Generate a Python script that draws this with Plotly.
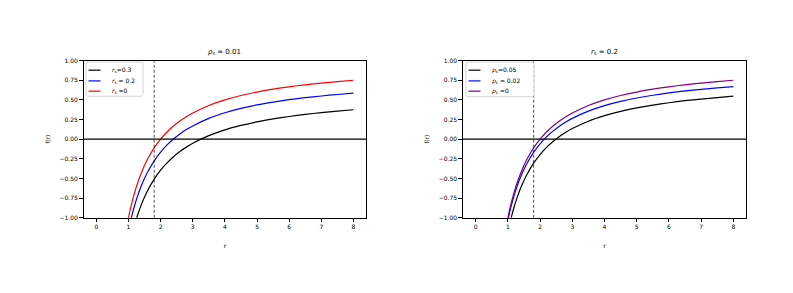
import plotly.graph_objects as go

# ---- data ----
r = [0.9, 1.0, 1.1, 1.2, 1.3, 1.4, 1.5, 1.6, 1.8, 2.0, 2.2, 2.4, 2.6, 2.8, 3.0,
     3.5, 4.0, 4.5, 5.0, 5.5, 6.0, 6.5, 7.0, 7.5, 8.0]

# left panel: rho_s = 0.01
left_rs03 = [-1.647, -1.419, -1.233, -1.077, -0.946, -0.833, -0.736, -0.650, -0.508,
             -0.394, -0.301, -0.223, -0.157, -0.101, -0.052, 0.045, 0.119, 0.175,
             0.221, 0.258, 0.289, 0.316, 0.338, 0.358, 0.375]
left_rs02 = [-1.386, -1.164, -0.982, -0.831, -0.702, -0.593, -0.497, -0.414, -0.275,
             -0.164, -0.073, 0.003, 0.067, 0.122, 0.169, 0.265, 0.336, 0.392,
             0.436, 0.472, 0.503, 0.528, 0.550, 0.569, 0.586]
left_rs0 = [-1.222, -1.000, -0.818, -0.667, -0.538, -0.429, -0.333, -0.250, -0.111,
            0.000, 0.091, 0.167, 0.231, 0.286, 0.333, 0.429, 0.500, 0.556,
            0.600, 0.636, 0.667, 0.692, 0.714, 0.733, 0.750]

# right panel: r_s = 0.2
right_rho005 = [-1.404, -1.184, -1.004, -0.854, -0.728, -0.619, -0.525, -0.442, -0.305,
                -0.195, -0.105, -0.030, 0.033, 0.088, 0.135, 0.229, 0.299, 0.354,
                0.398, 0.434, 0.464, 0.490, 0.511, 0.530, 0.547]
right_rho002 = [-1.248, -1.032, -0.855, -0.708, -0.583, -0.476, -0.384, -0.303, -0.168,
                -0.060, 0.029, 0.103, 0.165, 0.218, 0.265, 0.357, 0.427, 0.481,
                0.524, 0.559, 0.589, 0.614, 0.635, 0.654, 0.670]
right_rho0 = [-1.222, -1.000, -0.818, -0.667, -0.538, -0.429, -0.333, -0.250, -0.111,
              0.000, 0.091, 0.167, 0.231, 0.286, 0.333, 0.429, 0.500, 0.556,
              0.600, 0.636, 0.667, 0.692, 0.714, 0.733, 0.750]

x_ticks = [0, 1, 2, 3, 4, 5, 6, 7, 8]
y_ticks = [-1.0, -0.75, -0.5, -0.25, 0.0, 0.25, 0.5, 0.75, 1.0]
vline_r = 1.8

left_names = ["<i>r</i><sub>s</sub>=0.3", "<i>r</i><sub>s</sub> = 0.2", "<i>r</i><sub>s</sub> =0"]
right_names = ["<i>ρ</i><sub>s</sub>=0.05", "<i>ρ</i><sub>s</sub> = 0.02", "<i>ρ</i><sub>s</sub> =0"]
titles = ["<i>ρ</i><sub>s</sub> = 0.01", "<i>r</i><sub>s</sub> = 0.2"]

left_colors = ["#000000", "#0000ff", "#ff0000"]
right_colors = ["#000000", "#0000ff", "#800080"]

FONT = "DejaVu Sans"
W, H = 793, 293


def px(x):
    return x / W


def py(y):
    return 1 - y / H


fig = go.Figure()

for ys, c, n in zip([left_rs03, left_rs02, left_rs0], left_colors, left_names):
    fig.add_trace(go.Scatter(x=r, y=ys, mode="lines", name=n, showlegend=False,
                             line=dict(color=c, width=1.2, shape="spline", smoothing=0.6),
                             xaxis="x", yaxis="y"))

for ys, c, n in zip([right_rho005, right_rho002, right_rho0], right_colors, right_names):
    fig.add_trace(go.Scatter(x=r, y=ys, mode="lines", name=n, showlegend=False,
                             line=dict(color=c, width=1.2, shape="spline", smoothing=0.6),
                             xaxis="x2", yaxis="y2"))

# axes geometry (pixels -> paper)
lx0, lx1 = px(83.5), px(366.3)
rx0, rx1 = px(462.8), px(746.2)
y0, y1 = py(219), py(58)

axis_common = dict(showline=True, mirror=True, linecolor="black", linewidth=0.8,
                   ticks="outside", ticklen=3.5, tickwidth=0.8, tickcolor="black",
                   showgrid=False, zeroline=False,
                   tickfont=dict(family=FONT, size=6, color="black"))

xa = dict(axis_common, range=[-0.4, 8.4], tickvals=x_ticks,
          title=dict(text="r", font=dict(family=FONT, size=6, color="black"), standoff=14))
ya = dict(axis_common, range=[-1, 1], tickvals=y_ticks, tickformat=".2f",
          title=dict(text="f(r)", font=dict(family=FONT, size=6, color="black"), standoff=8))

fig.update_layout(
    width=W, height=H,
    margin=dict(l=0, r=0, t=0, b=0),
    paper_bgcolor="white", plot_bgcolor="white",
    font=dict(family=FONT, size=6, color="black"),
    xaxis=dict(xa, domain=[lx0, lx1], anchor="y"),
    yaxis=dict(ya, domain=[y0, y1], anchor="x"),
    xaxis2=dict(xa, domain=[rx0, rx1], anchor="y2"),
    yaxis2=dict(ya, domain=[y0, y1], anchor="x2"),
    showlegend=False,
)

shapes = []
for xr, yr in (("x", "y"), ("x2", "y2")):
    shapes.append(dict(type="line", xref=xr + " domain", yref=yr, x0=0, x1=1, y0=0, y1=0,
                       line=dict(color="black", width=1.2), layer="above"))
    shapes.append(dict(type="line", xref=xr, yref=yr + " domain", x0=vline_r, x1=vline_r,
                       y0=0, y1=1, line=dict(color="black", width=0.7, dash="3px,2px"),
                       layer="above"))


def rounded_rect(x0, y0_, x1, y1_, rad=2.0):
    pts = []
    pts.append(f"M {px(x0 + rad)},{py(y0_)}")
    pts.append(f"L {px(x1 - rad)},{py(y0_)}")
    pts.append(f"Q {px(x1)},{py(y0_)} {px(x1)},{py(y0_ + rad)}")
    pts.append(f"L {px(x1)},{py(y1_ - rad)}")
    pts.append(f"Q {px(x1)},{py(y1_)} {px(x1 - rad)},{py(y1_)}")
    pts.append(f"L {px(x0 + rad)},{py(y1_)}")
    pts.append(f"Q {px(x0)},{py(y1_)} {px(x0)},{py(y1_ - rad)}")
    pts.append(f"L {px(x0)},{py(y0_ + rad)}")
    pts.append(f"Q {px(x0)},{py(y0_)} {px(x0 + rad)},{py(y0_)} Z")
    return " ".join(pts)


legend_boxes = [
    dict(box=(86, 59.5, 143, 94.5), line_x=(88.5, 100.5), text_x=109.5,
         names=left_names, colors=left_colors),
    dict(box=(466, 59.5, 534, 95), line_x=(468.5, 480.5), text_x=489.5,
         names=right_names, colors=right_colors),
]
entry_y = [67.8, 78.8, 89.3]

annotations = []
for lg in legend_boxes:
    bx0, by0, bx1, by1 = lg["box"]
    shapes.append(dict(type="path", xref="paper", yref="paper",
                       path=rounded_rect(bx0, by0, bx1, by1),
                       fillcolor="rgba(255,255,255,0.8)",
                       line=dict(color="#cccccc", width=0.8), layer="above"))
    for ey, name, col in zip(entry_y, lg["names"], lg["colors"]):
        shapes.append(dict(type="line", xref="paper", yref="paper",
                           x0=px(lg["line_x"][0]), x1=px(lg["line_x"][1]),
                           y0=py(ey), y1=py(ey),
                           line=dict(color=col, width=1.2), layer="above"))
        annotations.append(dict(x=px(lg["text_x"]), y=py(ey), xref="paper", yref="paper",
                                text=name, showarrow=False, xanchor="left",
                                yanchor="middle",
                                font=dict(family=FONT, size=6, color="black")))

for (a, b), t in zip(((lx0, lx1), (rx0, rx1)), titles):
    annotations.append(dict(x=(a + b) / 2, y=py(49), xref="paper", yref="paper",
                            text=t, showarrow=False, xanchor="center", yanchor="middle",
                            font=dict(family=FONT, size=7, color="black")))

fig.update_layout(shapes=shapes, annotations=annotations)

fig.write_html("out.html", config={"displayModeBar": False},
               post_script="document.body.style.margin='0';document.body.style.padding='0';")
